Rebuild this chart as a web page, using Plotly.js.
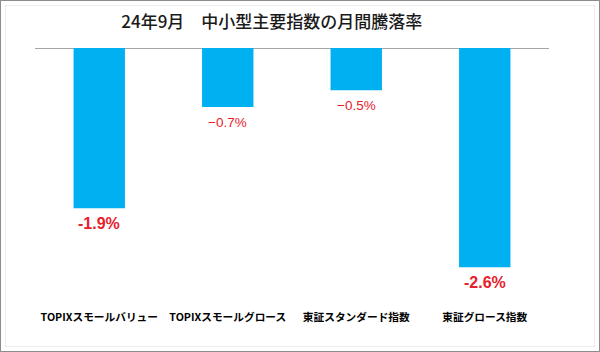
<!DOCTYPE html>
<html>
<head>
<meta charset="utf-8">
<script src="https://cdn.plot.ly/plotly-3.0.1.min.js"></script>
<style>
html,body{margin:0;padding:0;background:#fff;}
#wrap{position:relative;width:600px;height:352px;}
#chart{width:600px;height:352px;}
#frame{position:absolute;left:0;top:0;width:600px;height:352px;box-sizing:border-box;border:1px solid #8c8c8c;pointer-events:none;}
#frame2{position:absolute;left:5px;top:5px;width:590px;height:342px;box-sizing:border-box;border:1px solid #ececec;pointer-events:none;}
</style>
</head>
<body>
<div id="wrap"><div id="chart"></div><div id="frame2"></div><div id="frame"></div></div>
<script>
const categories = ["TOPIXスモールバリュー", "TOPIXスモールグロース", "東証スタンダード指数", "東証グロース指数"];
const values = [-1.9, -0.7, -0.5, -2.6];
const labels = ["-1.9%", "−0.7%", "−0.5%", "-2.6%"];
const labelBold = [true, false, false, true];

const trace = {
  type: "bar",
  x: categories,
  y: values,
  marker: {color: "#00b0f0"},
  hoverinfo: "none"
};

const annotations = categories.map((c, i) => ({
  x: c,
  y: values[i],
  xref: "x",
  yref: "y",
  text: labels[i],
  showarrow: false,
  yanchor: "middle",
  yshift: -15,
  font: labelBold[i]
    ? {family: "Liberation Sans, Arial, sans-serif", size: 16, color: "#e8202a", weight: "bold"}
    : {family: "Liberation Sans, Arial, sans-serif", size: 13.5, color: "#e8202a"}
}));

const layout = {
  width: 600,
  height: 352,
  margin: {l: 35, r: 51, t: 48, b: 51},
  paper_bgcolor: "#ffffff",
  plot_bgcolor: "#ffffff",
  bargap: 0.6,
  showlegend: false,
  title: {
    text: "24年9月　中小型主要指数の月間騰落率",
    x: 0.453,
    xanchor: "center",
    y: 0.937,
    yanchor: "middle",
    font: {family: "Noto Sans CJK JP", size: 17, color: "#1a1a1a", weight: 500}
  },
  xaxis: {
    type: "category",
    showgrid: false,
    zeroline: false,
    showline: false,
    ticks: "",
    ticklabelstandoff: 8,
    tickfont: {family: "Noto Sans CJK JP", size: 10.7, color: "#000", weight: "bold"},
    fixedrange: true
  },
  yaxis: {
    range: [-3.0, 0],
    showgrid: false,
    zeroline: true,
    zerolinecolor: "#a6a6a6",
    zerolinewidth: 1,
    showticklabels: false,
    ticks: "",
    showline: false,
    fixedrange: true
  },
  annotations: annotations
};

Plotly.newPlot("chart", [trace], layout, {displayModeBar: false, staticPlot: true});
</script>
</body>
</html>
